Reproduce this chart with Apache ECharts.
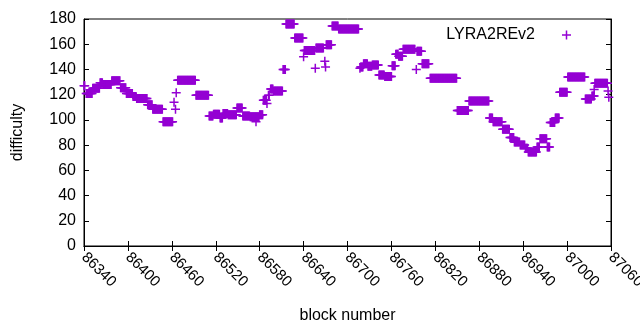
<!DOCTYPE html>
<html>
<head>
<meta charset="utf-8">
<script src="https://cdn.jsdelivr.net/npm/echarts@6/dist/echarts.min.js"></script>
<style>
  html, body { margin: 0; padding: 0; background: #fff; }
  #chart { width: 640px; height: 330px; }
</style>
</head>
<body>
<div id="chart"></div>
<script>
// difficulty stays constant over runs of blocks: first block, last block, value
const runFrom = [86340, 86343, 86352, 86362, 86366, 86378, 86390, 86398, 86407, 86412,
  86427, 86434, 86448, 86463, 86465, 86466, 86468, 86493, 86511, 86517,
  86526, 86530, 86537, 86549, 86557, 86567, 86575, 86580, 86585, 86590,
  86592, 86595, 86599, 86612, 86616, 86628, 86640, 86641, 86656, 86657,
  86669, 86670, 86671, 86679, 86688, 86717, 86718, 86722, 86728, 86734,
  86743, 86751, 86761, 86766, 86770, 86776, 86794, 86795, 86802, 86813,
  86850, 86866, 86894, 86899, 86912, 86922, 86928, 86936, 86943, 86947,
  86959, 86963, 86973, 86977, 86984, 86990, 87001, 87025, 87034, 87037,
  87038, 87056, 87057]
const runTo = [86341, 86351, 86361, 86365, 86377, 86389, 86397, 86406, 86411, 86426,
  86433, 86447, 86461, 86463, 86465, 86466, 86492, 86510, 86516, 86525,
  86529, 86536, 86548, 86556, 86566, 86579, 86575, 86584, 86589, 86590,
  86593, 86598, 86611, 86615, 86627, 86639, 86640, 86655, 86656, 86667,
  86669, 86670, 86678, 86687, 86715, 86717, 86721, 86727, 86733, 86742,
  86750, 86760, 86765, 86769, 86775, 86792, 86794, 86801, 86811, 86849,
  86865, 86893, 86898, 86911, 86921, 86927, 86935, 86942, 86946, 86958,
  86962, 86972, 86976, 86983, 86989, 87000, 87024, 87033, 87037, 87037,
  87055, 87056, 87057]
const runValue = [127, 121, 125, 129.5, 128, 131, 125.5, 121, 118.5, 117,
  112, 108.5, 98.5, 114, 108.5, 121.5, 131.5, 119.5, 103, 104.5,
  101.5, 105, 104, 109.5, 103, 102.5, 98.5, 104, 115.5, 113,
  119.5, 124.5, 123, 140, 176, 165, 150, 155, 141, 157,
  146.5, 142, 159.5, 174.5, 172, 141, 142, 144.5, 142.5, 143.5,
  135.5, 134.5, 143, 152, 150.5, 156, 140, 154.5, 144.5, 133,
  107.5, 115, 101.5, 98.5, 92.5, 86, 82.5, 80, 77.5, 74.5,
  78.5, 85, 78.5, 98, 101.5, 122, 134, 116.5, 119, 124,
  129, 123, 118]

const xMin = 86340
const xMax = 87060
const xStep = 60
const yMin = 0
const yMax = 180
const yStep = 20

// one point per block
const points = []
for (let i = 0; i < runFrom.length; i++) {
  for (let b = runFrom[i]; b <= runTo[i]; b++) {
    points.push([b, runValue[i]])
  }
}

const purple = '#9400D3'
const font = 'Liberation Sans, Arial, sans-serif'
const plus = 'path://M0,3.75L9,3.75L9,5.25L0,5.25Z M3.75,0L5.25,0L5.25,9L3.75,9Z'

const chart = echarts.init(document.getElementById('chart'), null, { renderer: 'canvas' })

const axisLine = { show: true, lineStyle: { color: '#000', width: 1 } }
const tick = { show: true, inside: true, length: 5, lineStyle: { color: '#000' } }

chart.setOption({
  animation: false,
  backgroundColor: '#fff',
  grid: {
    left: 84, right: 29, top: 19, bottom: 84,
    containLabel: false, outerBoundsMode: 'none',
    show: true, borderColor: '#000', borderWidth: 1
  },
  legend: {
    right: 64, top: 22,
    align: 'right',
    itemWidth: 9, itemHeight: 9,
    textStyle: { fontFamily: font, fontSize: 16, color: '#000', padding: [0, 22, 0, 0] },
    data: [{ name: 'LYRA2REv2', icon: plus }]
  },
  xAxis: [{
    type: 'value', min: xMin, max: xMax, interval: xStep,
    name: 'block number', nameLocation: 'middle', nameGap: 62,
    nameTextStyle: { fontFamily: font, fontSize: 16, color: '#000' },
    axisLine: axisLine, axisTick: tick, splitLine: { show: false },
    axisLabel: {
      rotate: -45, margin: 9, color: '#000', fontFamily: font, fontSize: 15,
      showMaxLabel: true, showMinLabel: true,
      formatter: v => String(v)
    }
  }, {
    type: 'value', min: xMin, max: xMax, interval: xStep, position: 'top',
    axisLine: axisLine, axisTick: tick, axisLabel: { show: false }, splitLine: { show: false }
  }],
  yAxis: [{
    type: 'value', min: yMin, max: yMax, interval: yStep,
    name: 'difficulty', nameLocation: 'middle', nameGap: 58,
    nameTextStyle: { fontFamily: font, fontSize: 16, color: '#000' },
    axisLine: axisLine, axisTick: tick, splitLine: { show: false },
    axisLabel: { color: '#000', fontFamily: font, fontSize: 16, margin: 8 }
  }, {
    type: 'value', min: yMin, max: yMax, interval: yStep, position: 'right',
    axisLine: axisLine, axisTick: tick, axisLabel: { show: false }, splitLine: { show: false }
  }],
  series: [{
    name: 'LYRA2REv2',
    type: 'scatter',
    symbol: plus,
    symbolSize: 9,
    itemStyle: { color: purple, opacity: 1 },
    data: points
  }]
})
</script>
</body>
</html>
